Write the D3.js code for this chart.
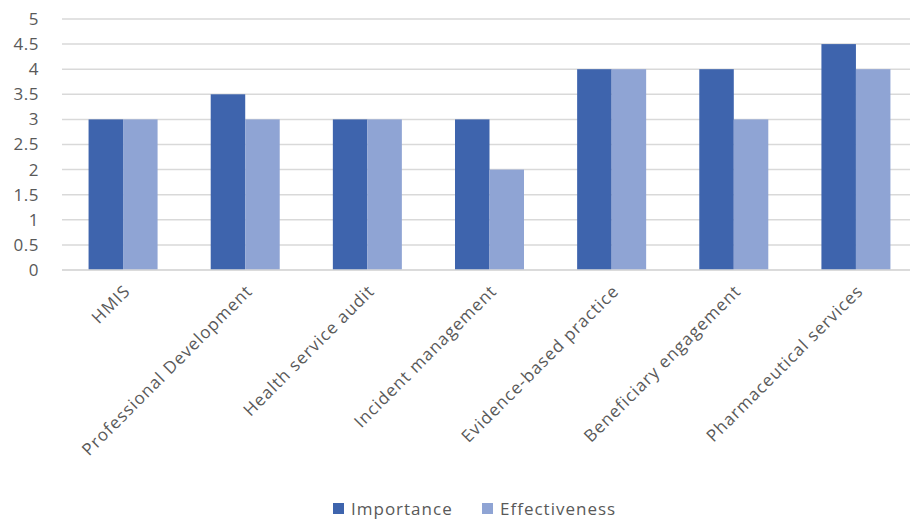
<!DOCTYPE html>
<html>
<head>
<meta charset="utf-8">
<script src="https://cdn.jsdelivr.net/npm/d3@7"></script>
<style>
  body { margin: 0; background: #fff; }
  text { font-family: "Open Sans", "Noto Sans", sans-serif; fill: #595959; }
</style>
</head>
<body>
<div id="chartDiv"></div>
<script>
; (function () {

	var categories = ["HMIS", "Professional Development", "Health service audit", "Incident management",
		"Evidence-based practice", "Beneficiary engagement", "Pharmaceutical services"];
	var importance = [3, 3.5, 3, 3, 4, 4, 4.5];
	var effectiveness = [3, 3, 3, 2, 4, 3, 4];
	var seriesNames = ["Importance", "Effectiveness"];
	var yTicks = [0, 0.5, 1, 1.5, 2, 2.5, 3, 3.5, 4, 4.5, 5];

	var colors = ["#3e64ad", "#8fa4d4"];
	var width = 910;
	var height = 520;
	var margin = { top: 19, left: 62, bottom: 250 };
	var chartWidth = 855; // runs a little past the right edge, like the original
	var chartHeight = height - margin.top - margin.bottom;

	var chart = d3.select("#chartDiv").append("svg")
		.attr("width", width)
		.attr("height", height);

	var plot = chart.append("g")
		.attr("transform", "translate(" + margin.left + "," + margin.top + ")");

	var xScale = d3.scaleBand()
		.domain(categories)
		.range([0, chartWidth])
		.paddingInner(0.435)
		.paddingOuter(0.2175);

	var xInner = d3.scaleBand()
		.domain(seriesNames)
		.range([0, xScale.bandwidth()]);

	var yScale = d3.scaleLinear()
		.domain([0, 5])
		.range([chartHeight, 0]);

	// gridlines
	plot.append("g")
		.selectAll("line")
		.data(yTicks)
		.join("line")
		.attr("x1", 0)
		.attr("x2", chartWidth)
		.attr("y1", function (d) { return yScale(d); })
		.attr("y2", function (d) { return yScale(d); })
		.attr("stroke", "#d9d9d9")
		.attr("stroke-width", 1.5);

	// y labels
	var yAxis = d3.axisLeft(yScale).tickValues(yTicks).tickSize(0).tickPadding(23)
		.tickFormat(function (d) { return String(d); });
	var yG = plot.append("g").call(yAxis);
	yG.select(".domain").remove();
	yG.selectAll("text").style("font-size", "17px").style("fill", "#595959")
		.style("letter-spacing", "0.5px")
		.style("font-family", "'Open Sans', 'Noto Sans', sans-serif");

	// bars
	var rows = categories.map(function (c, i) {
		return { cat: c, vals: [importance[i], effectiveness[i]] };
	});

	var groups = plot.selectAll(".grp")
		.data(rows)
		.join("g")
		.attr("class", "grp")
		.attr("transform", function (d) { return "translate(" + xScale(d.cat) + ",0)"; });

	groups.selectAll("rect")
		.data(function (d) { return d.vals.map(function (v, j) { return { name: seriesNames[j], v: v, j: j }; }); })
		.join("rect")
		.attr("x", function (d) { return xInner(d.name); })
		.attr("width", xInner.bandwidth())
		.attr("y", function (d) { return yScale(d.v); })
		.attr("height", function (d) { return chartHeight - yScale(d.v); })
		.attr("fill", function (d) { return colors[d.j]; });

	// x axis line
	plot.append("line")
		.attr("x1", 0).attr("x2", chartWidth)
		.attr("y1", chartHeight).attr("y2", chartHeight)
		.attr("stroke", "#d9d9d9").attr("stroke-width", 1.5);

	// x labels, rotated
	plot.append("g")
		.selectAll("text")
		.data(categories)
		.join("text")
		.attr("text-anchor", "end")
		.style("font-size", "17px")
		.style("letter-spacing", "1px")
		.attr("transform", function (d) {
			return "translate(" + (xScale(d) + xScale.bandwidth() / 2 + 4) + "," + (chartHeight + 18) + ") rotate(-45)";
		})
		.attr("dy", "0.35em")
		.text(function (d) { return d; });

	// legend
	var legend = chart.append("g")
		.attr("transform", "translate(333,503)");
	var items = legend.selectAll("g")
		.data(seriesNames)
		.join("g")
		.attr("transform", function (d, i) { return "translate(" + (i * 149) + ",0)"; });
	items.append("rect")
		.attr("width", 11).attr("height", 11)
		.attr("fill", function (d, i) { return colors[i]; });
	items.append("text")
		.attr("x", 18).attr("y", 12)
		.style("font-size", "17px")
		.style("letter-spacing", "1px")
		.text(function (d) { return d; });

})();
</script>
</body>
</html>
